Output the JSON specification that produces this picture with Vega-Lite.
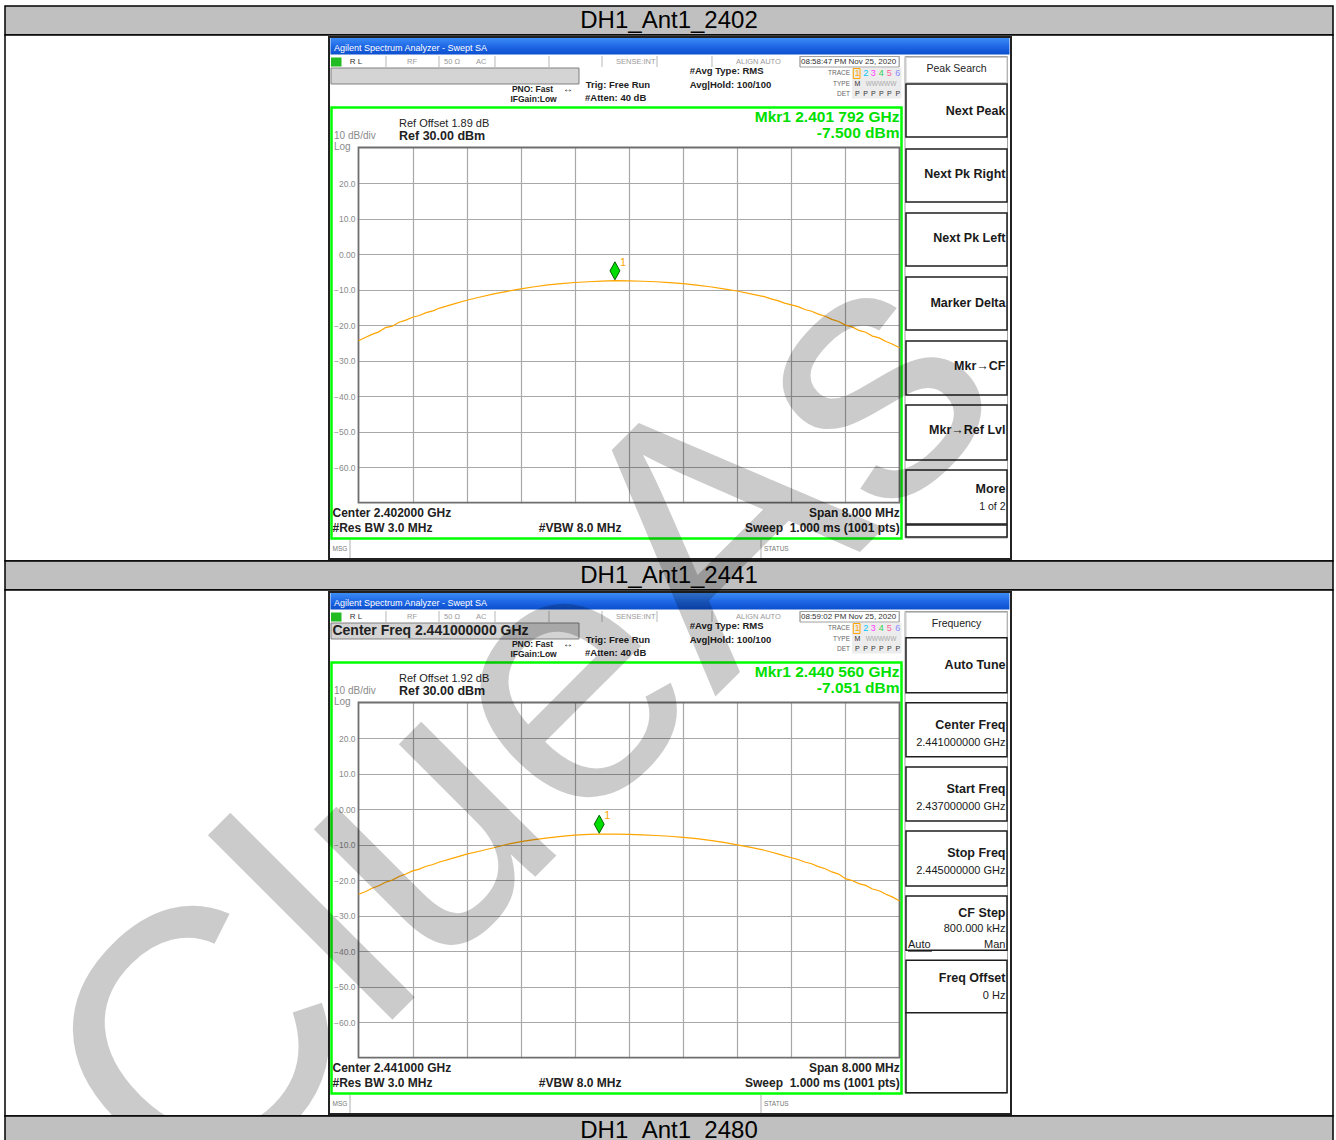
{
"$schema": "https://vega.github.io/schema/vega-lite/v6.json",
"background": "white",
"padding": {"left": 4, "top": 5, "right": 0, "bottom": 0},
"spacing": 0,
"bounds": "flush",
"config": {"font": "Liberation Sans", "view": {"stroke": "black"}},
"datasets": {
"shot": [{"x": -0.545, "x2": 12.061, "y": -3.111, "y2": 11.585}],
"titlebar": [{"x": -0.518, "x2": 12.033, "y": -3.083, "y2": -2.618}],
"titletext": [{"x": -0.453, "y": -2.801, "t": "Agilent Spectrum Analyzer - Swept SA"}],
"statusdiv": [{"x": 0.508, "y": -2.576, "y2": -2.266}, {"x": 1.488, "y": -2.576, "y2": -2.266}, {"x": 2.523, "y": -2.576, "y2": -2.266}, {"x": 3.521, "y": -2.576, "y2": -2.266}, {"x": 4.501, "y": -2.576, "y2": -2.266}, {"x": 5.518, "y": -2.576, "y2": -2.266}, {"x": 6.534, "y": -2.576, "y2": -2.266}, {"x": 8.161, "y": -2.576, "y2": -2.266}, {"x": 9.995, "y": -2.576, "y2": -2.266}],
"clockbox": [{"x": 8.161, "x2": 9.995, "y": -2.562, "y2": -2.266}],
"lxi": [{"x": -0.508, "x2": -0.314, "y": -2.534, "y2": -2.28}],
"statusgray": [{"x": 0.896, "y": -2.407, "t": "RF"}, {"x": 1.58, "y": -2.407, "t": "50 Ω"}, {"x": 2.172, "y": -2.407, "t": "AC"}, {"x": 4.76, "y": -2.407, "t": "SENSE:INT"}, {"x": 6.978, "y": -2.407, "t": "ALIGN AUTO"}],
"entry": [{"x": -0.508, "x2": 4.076, "y": -2.238, "y2": -1.788}],
"setr": [{"x": 3.595, "y": -1.655, "t": "PNO: Fast"}, {"x": 3.664, "y": -1.357, "t": "IFGain:Low"}],
"arrow": [{"x": 3.872, "y": -1.655, "t": "↔"}],
"setl": [{"x": 4.2, "y": -1.751, "t": "Trig: Free Run"}, {"x": 4.187, "y": -1.394, "t": "#Atten: 40 dB"}, {"x": 6.122, "y": -2.145, "t": "#Avg Type: RMS"}, {"x": 6.122, "y": -1.768, "t": "Avg|Hold: 100/100"}],
"tracebox": [{"x": 9.122, "x2": 10.037, "y": -2.238, "y2": -1.379}],
"tr1box": [{"x": 9.146, "x2": 9.27, "y": -2.224, "y2": -1.943}],
"trlab": [{"x": 9.085, "y": -2.097, "t": "TRACE"}, {"x": 9.085, "y": -1.796, "t": "TYPE"}, {"x": 9.085, "y": -1.515, "t": "DET"}],
"trnum": [{"x": 9.22, "y": -2.097, "t": "1"}, {"x": 9.375, "y": -2.097, "t": "2"}, {"x": 9.516, "y": -2.097, "t": "3"}, {"x": 9.664, "y": -2.097, "t": "4"}, {"x": 9.811, "y": -2.097, "t": "5"}, {"x": 9.967, "y": -2.097, "t": "6"}],
"trdet": [{"x": 9.22, "y": -1.796, "t": "M"}, {"x": 9.22, "y": -1.515, "t": "P"}, {"x": 9.375, "y": -1.515, "t": "P"}, {"x": 9.516, "y": -1.515, "t": "P"}, {"x": 9.664, "y": -1.515, "t": "P"}, {"x": 9.811, "y": -1.515, "t": "P"}, {"x": 9.967, "y": -1.515, "t": "P"}],
"trw": [{"x": 9.658, "y": -1.796, "t": "WWWWW"}],
"green": [{"x": -0.499, "x2": 10.037, "y": -1.126, "y2": 11.008}],
"ref": [{"x": 0.749, "y": -0.315, "t": "Ref 30.00 dBm"}],
"scaletxt": [{"x": -0.453, "y": -0.33, "t": "10 dB/div"}, {"x": -0.453, "y": -0.02, "t": "Log"}],
"botr": [{"x": 10.004, "y": 10.281, "t": "Span 8.000 MHz"}, {"x": 10.004, "y": 10.721, "t": "Sweep\u00a0\u00a01.000 ms (1001 pts)"}],
"msgdiv": [{"x": -0.157, "y": 11.05, "y2": 11.557}, {"x": 7.44, "y": 11.05, "y2": 11.557}],
"msgtext": [{"x": -0.481, "y": 11.303, "t": "MSG"}, {"x": 7.495, "y": 11.303, "t": "STATUS"}],
"panel": [{"x": 10.102, "x2": 11.996, "y": -2.562, "y2": 10.994}],
"skhead": [{"x": 10.12, "x2": 11.987, "y": -2.534, "y2": -1.83}]
},
"vconcat": [
{
"width": 1328, "height": 29,
"view": {"fill": "#c0c0c0", "stroke": "black", "strokeWidth": 1.5},
"data": {"values": [{"label": "DH1_Ant1_2402"}]},
"mark": {"type": "text", "fontSize": 24, "color": "black"},
"encoding": {"text": {"field": "label"}}
},
{
"width": 1328, "height": 526,
"view": {"fill": "white", "stroke": "black", "strokeWidth": 1.5},
"resolve": {"scale": {"x": "independent", "y": "independent"}},
"layer": [
{
"encoding": {
"x": {"field": "x", "type": "quantitative", "scale": {"domain": [0, 10], "range": [353.5, 894.5], "nice": false, "zero": false}, "axis": null},
"y": {"field": "y", "type": "quantitative", "scale": {"domain": [0, 10], "range": [112.5, 467.7], "nice": false, "zero": false}, "axis": null}
},
"layer": [
{"data": {"name": "shot"}, "mark": {"type": "rect", "filled": false, "stroke": "#222222", "strokeWidth": 2}, "encoding": {"x2": {"field": "x2"}, "y2": {"field": "y2"}}},
{"data": {"name": "titlebar"}, "mark": {"type": "rect", "fill": {"gradient": "linear", "x1": 0, "y1": 0, "x2": 0, "y2": 1, "stops": [{"offset": 0, "color": "#3c8cf5"}, {"offset": 0.5, "color": "#1f68e6"}, {"offset": 1, "color": "#0c4fcd"}]}}, "encoding": {"x2": {"field": "x2"}, "y2": {"field": "y2"}}},
{"data": {"name": "titletext"}, "mark": {"type": "text", "align": "left", "fontSize": 9, "color": "white"}, "encoding": {"text": {"field": "t"}}},
{"data": {"name": "statusdiv"}, "mark": {"type": "rule", "color": "#b8b8b8", "strokeWidth": 1}, "encoding": {"y2": {"field": "y2"}}},
{"data": {"name": "clockbox"}, "mark": {"type": "rect", "filled": false, "stroke": "#a0a0a0", "strokeWidth": 1}, "encoding": {"x2": {"field": "x2"}, "y2": {"field": "y2"}}},
{"data": {"name": "lxi"}, "mark": {"type": "rect", "fill": "#22bb22"}, "encoding": {"x2": {"field": "x2"}, "y2": {"field": "y2"}}},
{"data": {"name": "statusgray"}, "mark": {"type": "text", "align": "left", "fontSize": 7.5, "color": "#9a9a9a"}, "encoding": {"text": {"field": "t"}}},
{"data": {"values": [{"x": -0.163, "y": -2.407, "t": "R L"}, {"x": 8.179, "y": -2.407, "t": "08:58:47 PM Nov 25, 2020"}]}, "mark": {"type": "text", "align": "left", "fontSize": 8, "color": "#333333"}, "encoding": {"text": {"field": "t"}}},
{"data": {"name": "entry"}, "mark": {"type": "rect", "fill": "#d4d4d4", "stroke": "#808080", "strokeWidth": 1}, "encoding": {"x2": {"field": "x2"}, "y2": {"field": "y2"}}},
{"data": {"name": "setr"}, "mark": {"type": "text", "align": "right", "fontSize": 8.5, "fontWeight": "bold", "color": "#222222"}, "encoding": {"text": {"field": "t"}}},
{"data": {"name": "arrow"}, "mark": {"type": "text", "align": "center", "fontSize": 10, "color": "#222222"}, "encoding": {"text": {"field": "t"}}},
{"data": {"name": "setl"}, "mark": {"type": "text", "align": "left", "fontSize": 9.5, "fontWeight": "bold", "color": "#222222"}, "encoding": {"text": {"field": "t"}}},
{"data": {"name": "tracebox"}, "mark": {"type": "rect", "fill": "#ececec"}, "encoding": {"x2": {"field": "x2"}, "y2": {"field": "y2"}}},
{"data": {"name": "tr1box"}, "mark": {"type": "rect", "filled": false, "stroke": "#ffa500", "strokeWidth": 1}, "encoding": {"x2": {"field": "x2"}, "y2": {"field": "y2"}}},
{"data": {"name": "trlab"}, "mark": {"type": "text", "align": "right", "fontSize": 6.5, "color": "#666666"}, "encoding": {"text": {"field": "t"}}},
{"data": {"name": "trnum"}, "mark": {"type": "text", "align": "center", "fontSize": 9}, "encoding": {"text": {"field": "t"}, "color": {"field": "t", "type": "nominal", "scale": {"domain": ["1", "2", "3", "4", "5", "6"], "range": ["#ffa500", "#00c8ff", "#ff40ff", "#30d050", "#ff5fa0", "#8a8aff"]}, "legend": null}}},
{"data": {"name": "trdet"}, "mark": {"type": "text", "align": "center", "fontSize": 7, "color": "#333333"}, "encoding": {"text": {"field": "t"}}},
{"data": {"name": "trw"}, "mark": {"type": "text", "align": "center", "fontSize": 6.5, "color": "#aaaaaa"}, "encoding": {"text": {"field": "t"}}},
{"data": {"name": "green"}, "mark": {"type": "rect", "filled": false, "stroke": "#00ff00", "strokeWidth": 2.5}, "encoding": {"x2": {"field": "x2"}, "y2": {"field": "y2"}}},
{"data": {"values": [{"x": 0.749, "y": -0.653, "t": "Ref Offset 1.89 dB"}]}, "mark": {"type": "text", "align": "left", "fontSize": 11, "color": "#222222"}, "encoding": {"text": {"field": "t"}}},
{"data": {"name": "ref"}, "mark": {"type": "text", "align": "left", "fontSize": 12.5, "fontWeight": "bold", "color": "#222222"}, "encoding": {"text": {"field": "t"}}},
{"data": {"name": "scaletxt"}, "mark": {"type": "text", "align": "left", "fontSize": 10, "color": "#8a8a8a"}, "encoding": {"text": {"field": "t"}}},
{"data": {"values": [{"x": 10.0, "y": -0.859, "t": "Mkr1 2.401 792 GHz"}, {"x": 10.0, "y": -0.417, "t": "-7.500 dBm"}]}, "mark": {"type": "text", "align": "right", "fontSize": 15.5, "fontWeight": "bold", "color": "#00e000"}, "encoding": {"text": {"field": "t"}}},
{"data": {"values": [{"x": -0.481, "y": 10.281, "t": "Center 2.402000 GHz"}, {"x": -0.481, "y": 10.721, "t": "#Res BW 3.0 MHz"}, {"x": 3.331, "y": 10.721, "t": "#VBW 8.0 MHz"}]}, "mark": {"type": "text", "align": "left", "fontSize": 12, "fontWeight": "bold", "color": "#222222"}, "encoding": {"text": {"field": "t"}}},
{"data": {"name": "botr"}, "mark": {"type": "text", "align": "right", "fontSize": 12, "fontWeight": "bold", "color": "#222222"}, "encoding": {"text": {"field": "t"}}},
{"data": {"name": "msgdiv"}, "mark": {"type": "rule", "color": "#b0b0b0", "strokeWidth": 1}, "encoding": {"y2": {"field": "y2"}}},
{"data": {"name": "msgtext"}, "mark": {"type": "text", "align": "left", "fontSize": 6.5, "color": "#777777"}, "encoding": {"text": {"field": "t"}}},
{"data": {"name": "panel"}, "mark": {"type": "rect", "filled": false, "stroke": "#a0a0a0", "strokeWidth": 1}, "encoding": {"x2": {"field": "x2"}, "y2": {"field": "y2"}}},
{"data": {"name": "skhead"}, "mark": {"type": "rect", "filled": false, "stroke": "#c8c8c8", "strokeWidth": 1}, "encoding": {"x2": {"field": "x2"}, "y2": {"field": "y2"}}},
{"data": {"values": [{"x": 11.054, "y": -2.202, "t": "Peak Search"}]}, "mark": {"type": "text", "align": "center", "fontSize": 10.5, "color": "#222222"}, "encoding": {"text": {"field": "t"}}},
{"data": {"values": [{"x": 10.12, "x2": 11.987, "y": -1.788, "y2": -0.296}, {"x": 10.12, "x2": 11.987, "y": 0.042, "y2": 1.534}, {"x": 10.12, "x2": 11.987, "y": 1.844, "y2": 3.336}, {"x": 10.12, "x2": 11.987, "y": 3.646, "y2": 5.138}, {"x": 10.12, "x2": 11.987, "y": 5.448, "y2": 6.968}, {"x": 10.12, "x2": 11.987, "y": 7.25, "y2": 8.798}, {"x": 10.12, "x2": 11.987, "y": 9.079, "y2": 10.6}, {"x": 10.12, "x2": 11.987, "y": 10.628, "y2": 10.966}]}, "mark": {"type": "rect", "fill": "white", "stroke": "#1e1e1e", "strokeWidth": 1.5}, "encoding": {"x2": {"field": "x2"}, "y2": {"field": "y2"}}},
{"data": {"values": [{"x": 11.959, "y": -1.028, "t": "Next Peak"}, {"x": 11.959, "y": 0.755, "t": "Next Pk Right"}, {"x": 11.959, "y": 2.548, "t": "Next Pk Left"}, {"x": 11.959, "y": 4.369, "t": "Marker Delta"}, {"x": 11.959, "y": 6.16, "t": "Mkr→CF"}, {"x": 11.959, "y": 7.962, "t": "Mkr→Ref Lvl"}, {"x": 11.959, "y": 9.606, "t": "More"}]}, "mark": {"type": "text", "align": "right", "fontSize": 12.5, "fontWeight": "bold", "color": "#1a1a1a"}, "encoding": {"text": {"field": "t"}}},
{"data": {"values": [{"x": 11.959, "y": 10.121, "t": "1 of 2"}]}, "mark": {"type": "text", "align": "right", "fontSize": 10.5, "color": "#1a1a1a"}, "encoding": {"text": {"field": "t"}}}
]
},
{
"encoding": {
"x": {"field": "f", "type": "quantitative", "scale": {"domain": [2.398, 2.406], "range": [353.5, 894.5], "nice": false, "zero": false}, "axis": {"orient": "top", "values": [2.3988, 2.3996, 2.4004, 2.4012, 2.402, 2.4028, 2.4036, 2.4044, 2.4052], "grid": true, "gridColor": "#a8a8a8", "gridWidth": 1.2, "labels": false, "ticks": false, "domain": false, "title": null}},
"y": {"field": "db", "type": "quantitative", "scale": {"domain": [-70, 30], "range": [467.7, 112.5], "nice": false, "zero": false}, "axis": {"orient": "left", "offset": -353.5, "values": [-60, -50, -40, -30, -20, -10, 0, 10, 20], "labelExpr": "datum.value == 0 ? '0.00' : format(datum.value, '.1f')", "grid": true, "gridColor": "#a8a8a8", "gridWidth": 1.2, "ticks": false, "tickSize": 0, "domain": false, "labelColor": "#8a8a8a", "labelFontSize": 8.5, "labelPadding": 3.5, "title": null}}
},
"layer": [
{"data": {"values": [{"f": 2.398, "f2": 2.406, "db": -70, "db2": 30}]}, "mark": {"type": "rect", "filled": false, "stroke": "#6e6e6e", "strokeWidth": 1.8}, "encoding": {"x2": {"field": "f2"}, "y2": {"field": "db2"}}},
{"data": {"values": [
{"f": 2.398, "db": -24.4}, {"f": 2.3981, "db": -23.5}, {"f": 2.3982, "db": -22.6}, {"f": 2.3983, "db": -21.9}, {"f": 2.3984, "db": -20.7}, {"f": 2.3985, "db": -20.3}, {"f": 2.3986, "db": -19.2}, {"f": 2.3987, "db": -18.6}, {"f": 2.3988, "db": -17.8}, {"f": 2.3989, "db": -17.3}, {"f": 2.399, "db": -16.5}, {"f": 2.3991, "db": -16.0}, {"f": 2.3992, "db": -15.2}, {"f": 2.3994, "db": -14.1}, {"f": 2.3996, "db": -13.0}, {"f": 2.3998, "db": -12.1}, {"f": 2.4, "db": -11.2}, {"f": 2.4002, "db": -10.5}, {"f": 2.4004, "db": -9.8}, {"f": 2.4006, "db": -9.2}, {"f": 2.4008, "db": -8.7}, {"f": 2.401, "db": -8.3}, {"f": 2.4012, "db": -8.0}, {"f": 2.4014, "db": -7.8}, {"f": 2.4016, "db": -7.6}, {"f": 2.401792, "db": -7.5}, {"f": 2.402, "db": -7.55}, {"f": 2.4022, "db": -7.65}, {"f": 2.4024, "db": -7.8}, {"f": 2.4026, "db": -8.05}, {"f": 2.4028, "db": -8.35}, {"f": 2.403, "db": -8.75}, {"f": 2.4032, "db": -9.2}, {"f": 2.4034, "db": -9.8}, {"f": 2.4036, "db": -10.4}, {"f": 2.4038, "db": -11.2}, {"f": 2.404, "db": -12.0}, {"f": 2.4041, "db": -12.6}, {"f": 2.4042, "db": -13.1}, {"f": 2.4043, "db": -13.8}, {"f": 2.4044, "db": -14.3}, {"f": 2.4045, "db": -14.8}, {"f": 2.4046, "db": -15.6}, {"f": 2.4047, "db": -16.1}, {"f": 2.4048, "db": -16.9}, {"f": 2.4049, "db": -17.5}, {"f": 2.405, "db": -18.4}, {"f": 2.4051, "db": -19.0}, {"f": 2.4052, "db": -20.0}, {"f": 2.4053, "db": -20.5}, {"f": 2.4054, "db": -21.5}, {"f": 2.4055, "db": -22.0}, {"f": 2.4056, "db": -23.1}, {"f": 2.4057, "db": -23.6}, {"f": 2.4058, "db": -24.6}, {"f": 2.4059, "db": -25.4}, {"f": 2.406, "db": -26.4}
]}, "mark": {"type": "line", "color": "#ffa500", "strokeWidth": 1.2}, "encoding": {}},
{"data": {"values": [{"f": 2.401792, "db": -7.5}]}, "mark": {"type": "point", "shape": "M0,-2.1L0.55,-1.1L0,-0.1L-0.55,-1.1Z", "size": 324, "filled": true, "fill": "#00dd00", "stroke": "#006000", "strokeWidth": 1, "opacity": 1}, "encoding": {}},
{"data": {"values": [{"f": 2.401792, "db": -7.5}]}, "mark": {"type": "text", "text": "1", "align": "left", "dx": 5, "dy": -18, "fontSize": 11, "color": "#ffa500"}, "encoding": {}}
]
}
]
},
{
"width": 1328, "height": 29,
"view": {"fill": "#c0c0c0", "stroke": "black", "strokeWidth": 1.5},
"data": {"values": [{"label": "DH1_Ant1_2441"}]},
"mark": {"type": "text", "fontSize": 24, "color": "black"},
"encoding": {"text": {"field": "label"}}
},
{
"width": 1328, "height": 526,
"view": {"fill": "white", "stroke": "black", "strokeWidth": 1.5},
"resolve": {"scale": {"x": "independent", "y": "independent"}},
"layer": [
{
"encoding": {
"x": {"field": "x", "type": "quantitative", "scale": {"domain": [0, 10], "range": [353.5, 894.5], "nice": false, "zero": false}, "axis": null},
"y": {"field": "y", "type": "quantitative", "scale": {"domain": [0, 10], "range": [112.5, 467.7], "nice": false, "zero": false}, "axis": null}
},
"layer": [
{"data": {"name": "shot"}, "mark": {"type": "rect", "filled": false, "stroke": "#222222", "strokeWidth": 2}, "encoding": {"x2": {"field": "x2"}, "y2": {"field": "y2"}}},
{"data": {"name": "titlebar"}, "mark": {"type": "rect", "fill": {"gradient": "linear", "x1": 0, "y1": 0, "x2": 0, "y2": 1, "stops": [{"offset": 0, "color": "#3c8cf5"}, {"offset": 0.5, "color": "#1f68e6"}, {"offset": 1, "color": "#0c4fcd"}]}}, "encoding": {"x2": {"field": "x2"}, "y2": {"field": "y2"}}},
{"data": {"name": "titletext"}, "mark": {"type": "text", "align": "left", "fontSize": 9, "color": "white"}, "encoding": {"text": {"field": "t"}}},
{"data": {"name": "statusdiv"}, "mark": {"type": "rule", "color": "#b8b8b8", "strokeWidth": 1}, "encoding": {"y2": {"field": "y2"}}},
{"data": {"name": "clockbox"}, "mark": {"type": "rect", "filled": false, "stroke": "#a0a0a0", "strokeWidth": 1}, "encoding": {"x2": {"field": "x2"}, "y2": {"field": "y2"}}},
{"data": {"name": "lxi"}, "mark": {"type": "rect", "fill": "#22bb22"}, "encoding": {"x2": {"field": "x2"}, "y2": {"field": "y2"}}},
{"data": {"name": "statusgray"}, "mark": {"type": "text", "align": "left", "fontSize": 7.5, "color": "#9a9a9a"}, "encoding": {"text": {"field": "t"}}},
{"data": {"values": [{"x": -0.163, "y": -2.407, "t": "R L"}, {"x": 8.179, "y": -2.407, "t": "08:59:02 PM Nov 25, 2020"}]}, "mark": {"type": "text", "align": "left", "fontSize": 8, "color": "#333333"}, "encoding": {"text": {"field": "t"}}},
{"data": {"name": "entry"}, "mark": {"type": "rect", "fill": "#d4d4d4", "stroke": "#808080", "strokeWidth": 1}, "encoding": {"x2": {"field": "x2"}, "y2": {"field": "y2"}}},
{"data": {"values": [{"x": -0.481, "y": -1.999, "t": "Center Freq 2.441000000 GHz"}]}, "mark": {"type": "text", "align": "left", "fontSize": 14, "fontWeight": "bold", "color": "#222222"}, "encoding": {"text": {"field": "t"}}},
{"data": {"name": "setr"}, "mark": {"type": "text", "align": "right", "fontSize": 8.5, "fontWeight": "bold", "color": "#222222"}, "encoding": {"text": {"field": "t"}}},
{"data": {"name": "arrow"}, "mark": {"type": "text", "align": "center", "fontSize": 10, "color": "#222222"}, "encoding": {"text": {"field": "t"}}},
{"data": {"name": "setl"}, "mark": {"type": "text", "align": "left", "fontSize": 9.5, "fontWeight": "bold", "color": "#222222"}, "encoding": {"text": {"field": "t"}}},
{"data": {"name": "tracebox"}, "mark": {"type": "rect", "fill": "#ececec"}, "encoding": {"x2": {"field": "x2"}, "y2": {"field": "y2"}}},
{"data": {"name": "tr1box"}, "mark": {"type": "rect", "filled": false, "stroke": "#ffa500", "strokeWidth": 1}, "encoding": {"x2": {"field": "x2"}, "y2": {"field": "y2"}}},
{"data": {"name": "trlab"}, "mark": {"type": "text", "align": "right", "fontSize": 6.5, "color": "#666666"}, "encoding": {"text": {"field": "t"}}},
{"data": {"name": "trnum"}, "mark": {"type": "text", "align": "center", "fontSize": 9}, "encoding": {"text": {"field": "t"}, "color": {"field": "t", "type": "nominal", "scale": {"domain": ["1", "2", "3", "4", "5", "6"], "range": ["#ffa500", "#00c8ff", "#ff40ff", "#30d050", "#ff5fa0", "#8a8aff"]}, "legend": null}}},
{"data": {"name": "trdet"}, "mark": {"type": "text", "align": "center", "fontSize": 7, "color": "#333333"}, "encoding": {"text": {"field": "t"}}},
{"data": {"name": "trw"}, "mark": {"type": "text", "align": "center", "fontSize": 6.5, "color": "#aaaaaa"}, "encoding": {"text": {"field": "t"}}},
{"data": {"name": "green"}, "mark": {"type": "rect", "filled": false, "stroke": "#00ff00", "strokeWidth": 2.5}, "encoding": {"x2": {"field": "x2"}, "y2": {"field": "y2"}}},
{"data": {"values": [{"x": 0.749, "y": -0.653, "t": "Ref Offset 1.92 dB"}]}, "mark": {"type": "text", "align": "left", "fontSize": 11, "color": "#222222"}, "encoding": {"text": {"field": "t"}}},
{"data": {"name": "ref"}, "mark": {"type": "text", "align": "left", "fontSize": 12.5, "fontWeight": "bold", "color": "#222222"}, "encoding": {"text": {"field": "t"}}},
{"data": {"name": "scaletxt"}, "mark": {"type": "text", "align": "left", "fontSize": 10, "color": "#8a8a8a"}, "encoding": {"text": {"field": "t"}}},
{"data": {"values": [{"x": 10.0, "y": -0.859, "t": "Mkr1 2.440 560 GHz"}, {"x": 10.0, "y": -0.417, "t": "-7.051 dBm"}]}, "mark": {"type": "text", "align": "right", "fontSize": 15.5, "fontWeight": "bold", "color": "#00e000"}, "encoding": {"text": {"field": "t"}}},
{"data": {"values": [{"x": -0.481, "y": 10.281, "t": "Center 2.441000 GHz"}, {"x": -0.481, "y": 10.721, "t": "#Res BW 3.0 MHz"}, {"x": 3.331, "y": 10.721, "t": "#VBW 8.0 MHz"}]}, "mark": {"type": "text", "align": "left", "fontSize": 12, "fontWeight": "bold", "color": "#222222"}, "encoding": {"text": {"field": "t"}}},
{"data": {"name": "botr"}, "mark": {"type": "text", "align": "right", "fontSize": 12, "fontWeight": "bold", "color": "#222222"}, "encoding": {"text": {"field": "t"}}},
{"data": {"name": "msgdiv"}, "mark": {"type": "rule", "color": "#b0b0b0", "strokeWidth": 1}, "encoding": {"y2": {"field": "y2"}}},
{"data": {"name": "msgtext"}, "mark": {"type": "text", "align": "left", "fontSize": 6.5, "color": "#777777"}, "encoding": {"text": {"field": "t"}}},
{"data": {"name": "panel"}, "mark": {"type": "rect", "filled": false, "stroke": "#a0a0a0", "strokeWidth": 1}, "encoding": {"x2": {"field": "x2"}, "y2": {"field": "y2"}}},
{"data": {"name": "skhead"}, "mark": {"type": "rect", "filled": false, "stroke": "#c8c8c8", "strokeWidth": 1}, "encoding": {"x2": {"field": "x2"}, "y2": {"field": "y2"}}},
{"data": {"values": [{"x": 11.054, "y": -2.202, "t": "Frequency"}]}, "mark": {"type": "text", "align": "center", "fontSize": 10.5, "color": "#222222"}, "encoding": {"text": {"field": "t"}}},
{"data": {"values": [{"x": 10.12, "x2": 11.987, "y": -1.824, "y2": -0.276}, {"x": 10.12, "x2": 11.987, "y": 0.006, "y2": 1.526}, {"x": 10.12, "x2": 11.987, "y": 1.816, "y2": 3.336}, {"x": 10.12, "x2": 11.987, "y": 3.618, "y2": 5.166}, {"x": 10.12, "x2": 11.987, "y": 5.448, "y2": 6.976}, {"x": 10.12, "x2": 11.987, "y": 7.258, "y2": 8.733}, {"x": 10.12, "x2": 11.987, "y": 8.733, "y2": 10.985}]}, "mark": {"type": "rect", "fill": "white", "stroke": "#1e1e1e", "strokeWidth": 1.5}, "encoding": {"x2": {"field": "x2"}, "y2": {"field": "y2"}}},
{"data": {"values": [{"x": 11.959, "y": -1.056, "t": "Auto Tune"}, {"x": 11.959, "y": 0.633, "t": "Center Freq"}, {"x": 11.959, "y": 2.444, "t": "Start Freq"}, {"x": 11.959, "y": 4.229, "t": "Stop Freq"}, {"x": 11.959, "y": 5.918, "t": "CF Step"}, {"x": 11.959, "y": 7.748, "t": "Freq Offset"}]}, "mark": {"type": "text", "align": "right", "fontSize": 12.5, "fontWeight": "bold", "color": "#1a1a1a"}, "encoding": {"text": {"field": "t"}}},
{"data": {"values": [{"x": 11.959, "y": 1.132, "t": "2.441000000 GHz"}, {"x": 11.959, "y": 2.942, "t": "2.437000000 GHz"}, {"x": 11.959, "y": 4.744, "t": "2.445000000 GHz"}, {"x": 11.959, "y": 6.385, "t": "800.000 kHz"}, {"x": 11.959, "y": 6.827, "t": "Man"}, {"x": 11.959, "y": 8.263, "t": "0 Hz"}]}, "mark": {"type": "text", "align": "right", "fontSize": 11, "color": "#1a1a1a"}, "encoding": {"text": {"field": "t"}}},
{"data": {"values": [{"x": 10.157, "y": 6.827, "t": "Auto"}]}, "mark": {"type": "text", "align": "left", "fontSize": 11, "color": "#1a1a1a"}, "encoding": {"text": {"field": "t"}}},
{"data": {"values": [{"x": 10.157, "x2": 10.601, "y": 7.0}]}, "mark": {"type": "rule", "color": "#1a1a1a", "strokeWidth": 1}, "encoding": {"x2": {"field": "x2"}}}
]
},
{
"encoding": {
"x": {"field": "f", "type": "quantitative", "scale": {"domain": [2.437, 2.445], "range": [353.5, 894.5], "nice": false, "zero": false}, "axis": {"orient": "top", "values": [2.4378, 2.4386, 2.4394, 2.4402, 2.441, 2.4418, 2.4426, 2.4434, 2.4442], "grid": true, "gridColor": "#a8a8a8", "gridWidth": 1.2, "labels": false, "ticks": false, "domain": false, "title": null}},
"y": {"field": "db", "type": "quantitative", "scale": {"domain": [-70, 30], "range": [467.7, 112.5], "nice": false, "zero": false}, "axis": {"orient": "left", "offset": -353.5, "values": [-60, -50, -40, -30, -20, -10, 0, 10, 20], "labelExpr": "datum.value == 0 ? '0.00' : format(datum.value, '.1f')", "grid": true, "gridColor": "#a8a8a8", "gridWidth": 1.2, "ticks": false, "tickSize": 0, "domain": false, "labelColor": "#8a8a8a", "labelFontSize": 8.5, "labelPadding": 3.5, "title": null}}
},
"layer": [
{"data": {"values": [{"f": 2.437, "f2": 2.445, "db": -70, "db2": 30}]}, "mark": {"type": "rect", "filled": false, "stroke": "#6e6e6e", "strokeWidth": 1.8}, "encoding": {"x2": {"field": "f2"}, "y2": {"field": "db2"}}},
{"data": {"values": [
{"f": 2.437, "db": -24.0}, {"f": 2.4371, "db": -23.3}, {"f": 2.4372, "db": -22.3}, {"f": 2.4373, "db": -21.6}, {"f": 2.4374, "db": -20.6}, {"f": 2.4375, "db": -20.0}, {"f": 2.4376, "db": -19.0}, {"f": 2.4377, "db": -18.3}, {"f": 2.4378, "db": -17.4}, {"f": 2.4379, "db": -16.9}, {"f": 2.438, "db": -16.1}, {"f": 2.4381, "db": -15.6}, {"f": 2.4382, "db": -14.9}, {"f": 2.4384, "db": -13.8}, {"f": 2.4386, "db": -12.7}, {"f": 2.4388, "db": -11.8}, {"f": 2.439, "db": -10.9}, {"f": 2.4392, "db": -9.9}, {"f": 2.4394, "db": -9.15}, {"f": 2.4396, "db": -8.6}, {"f": 2.4398, "db": -8.1}, {"f": 2.44, "db": -7.7}, {"f": 2.4402, "db": -7.35}, {"f": 2.4404, "db": -7.15}, {"f": 2.44056, "db": -7.05}, {"f": 2.4408, "db": -7.08}, {"f": 2.441, "db": -7.1}, {"f": 2.4412, "db": -7.25}, {"f": 2.4414, "db": -7.45}, {"f": 2.4416, "db": -7.65}, {"f": 2.4418, "db": -7.95}, {"f": 2.442, "db": -8.35}, {"f": 2.4422, "db": -8.8}, {"f": 2.4424, "db": -9.4}, {"f": 2.4426, "db": -10.1}, {"f": 2.4428, "db": -10.8}, {"f": 2.443, "db": -11.6}, {"f": 2.4431, "db": -12.1}, {"f": 2.4432, "db": -12.6}, {"f": 2.4433, "db": -13.2}, {"f": 2.4434, "db": -13.7}, {"f": 2.4435, "db": -14.2}, {"f": 2.4436, "db": -14.9}, {"f": 2.4437, "db": -15.4}, {"f": 2.4438, "db": -16.2}, {"f": 2.4439, "db": -16.8}, {"f": 2.444, "db": -17.7}, {"f": 2.4441, "db": -18.3}, {"f": 2.4442, "db": -19.6}, {"f": 2.4443, "db": -20.1}, {"f": 2.4444, "db": -21.0}, {"f": 2.4445, "db": -21.5}, {"f": 2.4446, "db": -22.5}, {"f": 2.4447, "db": -23.0}, {"f": 2.4448, "db": -24.0}, {"f": 2.4449, "db": -24.8}, {"f": 2.445, "db": -25.9}
]}, "mark": {"type": "line", "color": "#ffa500", "strokeWidth": 1.2}, "encoding": {}},
{"data": {"values": [{"f": 2.44056, "db": -7.051}]}, "mark": {"type": "point", "shape": "M0,-2.1L0.55,-1.1L0,-0.1L-0.55,-1.1Z", "size": 324, "filled": true, "fill": "#00dd00", "stroke": "#006000", "strokeWidth": 1, "opacity": 1}, "encoding": {}},
{"data": {"values": [{"f": 2.44056, "db": -7.051}]}, "mark": {"type": "text", "text": "1", "align": "left", "dx": 5, "dy": -18, "fontSize": 11, "color": "#ffa500"}, "encoding": {}}
]
},
{
"encoding": {
"x": {"field": "x", "type": "quantitative", "scale": {"domain": [0, 10], "range": [353.5, 894.5], "nice": false, "zero": false}, "axis": null},
"y": {"field": "y", "type": "quantitative", "scale": {"domain": [0, 10], "range": [112.5, 467.7], "nice": false, "zero": false}, "axis": null},
"text": {"field": "t"}
},
"layer": [
{"data": {"values": [{"x": -3.089, "y": 14.586, "t": "C"}]}, "mark": {"type": "text", "align": "left", "baseline": "alphabetic", "angle": 315, "fontSize": 360, "color": "black", "opacity": 0.2, "clip": true}},
{"data": {"values": [{"x": 0.309, "y": 9.412, "t": "lueAs"}]}, "mark": {"type": "text", "align": "left", "baseline": "alphabetic", "angle": 315, "fontSize": 360, "color": "black", "opacity": 0.2}}
]
}
]
},
{
"width": 1328, "height": 29,
"view": {"fill": "#c0c0c0", "stroke": "black", "strokeWidth": 1.5},
"data": {"values": [{"label": "DH1_Ant1_2480"}]},
"mark": {"type": "text", "fontSize": 24, "color": "black"},
"encoding": {"text": {"field": "label"}}
}
]
}
